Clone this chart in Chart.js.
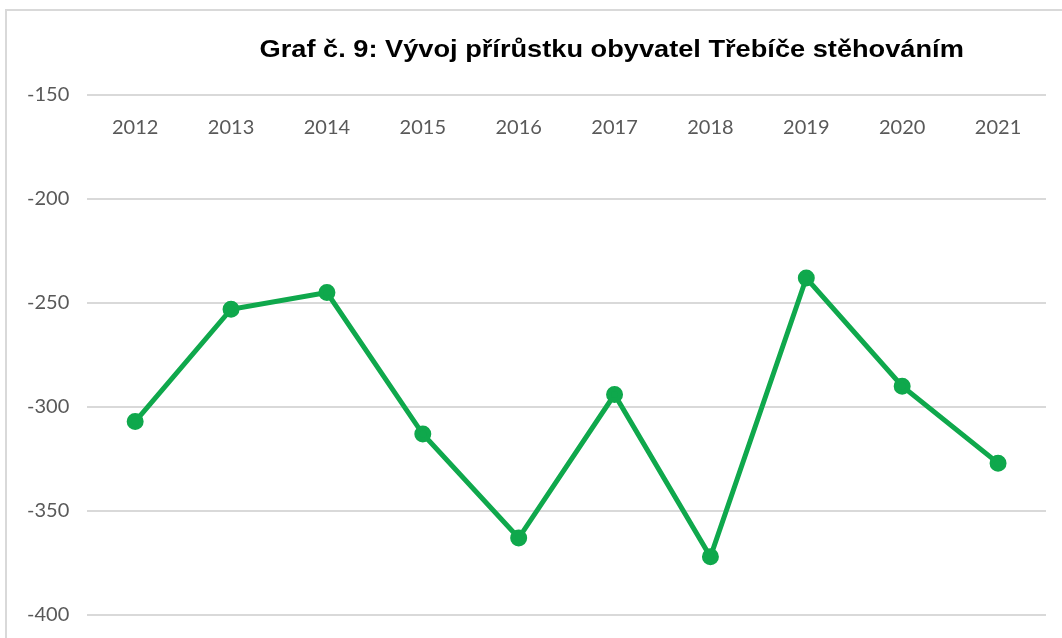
<!DOCTYPE html>
<html>
<head>
<meta charset="utf-8">
<script src="https://cdn.jsdelivr.net/npm/chart.js@4"></script>
<style>
  html, body { margin: 0; padding: 0; background: #fff; overflow: hidden; width: 1062px; height: 638px; }
  #frame { position: absolute; left: 5px; top: 9px; width: 1070px; height: 640px; border-left: 2px solid #d9d9d9; border-top: 2px solid #d9d9d9; }
  #wrap { position: absolute; left: 0; top: 0; width: 1062px; height: 638px; overflow: hidden; }
</style>
</head>
<body>
<div id="frame"></div>
<div id="wrap"><canvas id="c" width="1062" height="645"></canvas></div>
<script>
const titleText = 'Graf č. 9: Vývoj přírůstku obyvatel Třebíče stěhováním';
const years = ['2012','2013','2014','2015','2016','2017','2018','2019','2020','2021'];
const migration = [-307, -253, -245, -313, -363, -294, -372, -238, -290, -327];
const yMin = -400, yMax = -150, yStep = 50;

const titlePlugin = {
  id: 'offsetTitle',
  afterDraw(chart) {
    const ctx = chart.ctx;
    const cx = chart.width * 0.576;
    ctx.save();
    ctx.font = 'bold 24px "Liberation Sans", Arial, sans-serif';
    ctx.fillStyle = '#000';
    ctx.textAlign = 'center';
    ctx.textBaseline = 'alphabetic';
    ctx.translate(cx, 57);
    ctx.scale(1.133, 1);
    ctx.fillText(titleText, 0, 0);
    ctx.restore();
  }
};

new Chart(document.getElementById('c'), {
  type: 'line',
  data: {
    labels: years,
    datasets: [{
      data: migration,
      borderColor: '#0fa84c',
      backgroundColor: '#0fa84c',
      borderWidth: 5,
      pointRadius: 6,
      pointHoverRadius: 6,
      pointBackgroundColor: '#0fa84c',
      pointBorderColor: '#0fa84c',
      tension: 0,
      fill: false
    }]
  },
  options: {
    responsive: false,
    animation: false,
    devicePixelRatio: 1,
    layout: { padding: { left: 9, right: 16, top: 95, bottom: 13 } },
    plugins: { legend: { display: false }, tooltip: { enabled: false }, title: { display: false } },
    scales: {
      x: {
        position: { y: yMax },
        offset: true,
        grid: { display: false, drawTicks: false },
        border: { display: false },
        ticks: { color: '#595959', font: { family: 'Lato', size: 20 }, padding: 21, maxRotation: 0 }
      },
      y: {
        min: yMin, max: yMax,
        ticks: { stepSize: yStep, color: '#595959', font: { family: 'Lato', size: 20 }, padding: 18 },
        grid: { color: '#d9d9d9', lineWidth: 2, drawTicks: false },
        border: { display: false }
      }
    }
  },
  plugins: [titlePlugin]
});
</script>
</body>
</html>
